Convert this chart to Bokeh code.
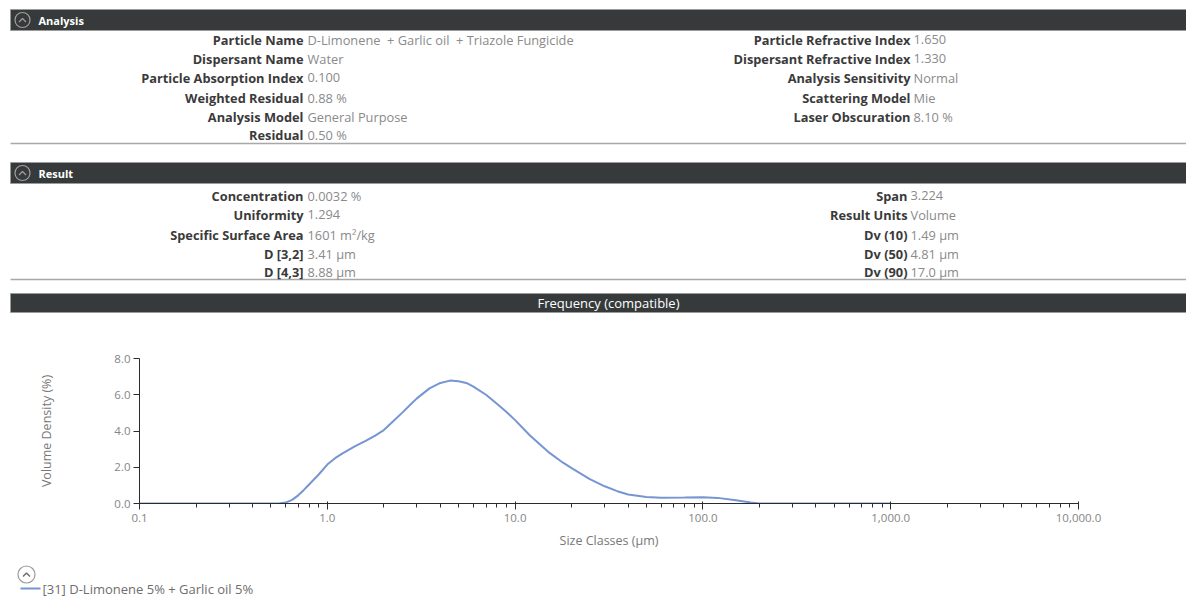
from bokeh.plotting import figure
from bokeh.models import Range1d, FixedTicker, CustomJSTickFormatter, NumeralTickFormatter
from bokeh.core.properties import value
from bokeh.embed import file_html
from bokeh.resources import INLINE

# ---------------- data ----------------
analysis_left_labels = ["Particle Name", "Dispersant Name", "Particle Absorption Index",
                        "Weighted Residual", "Analysis Model", "Residual"]
analysis_left_values = ["D-Limonene\u00a0 + Garlic oil\u00a0 + Triazole Fungicide", "Water", "0.100",
                        "0.88 %", "General Purpose", "0.50 %"]
analysis_right_labels = ["Particle Refractive Index", "Dispersant Refractive Index",
                         "Analysis Sensitivity", "Scattering Model", "Laser Obscuration"]
analysis_right_values = ["1.650", "1.330", "Normal", "Mie", "8.10 %"]

result_left_labels = ["Concentration", "Uniformity", "Specific Surface Area", "D [3,2]", "D [4,3]"]
result_left_values = ["0.0032 %", "1.294", "1601 m²/kg", "3.41 μm", "8.88 μm"]
result_right_labels = ["Span", "Result Units", "Dv (10)", "Dv (50)", "Dv (90)"]
result_right_values = ["3.224", "Volume", "1.49 μm", "4.81 μm", "17.0 μm"]

size_classes = [0.1, 0.2, 0.3, 0.4, 0.5, 0.55, 0.6, 0.65, 0.7, 0.75, 0.8, 0.9, 1.0, 1.1, 1.2,
                1.4, 1.6, 1.8, 2.0, 2.2, 2.5, 2.8, 3.0, 3.5, 4.0, 4.5, 5.0, 5.5, 6.0, 7.0,
                8.0, 9.0, 10.0, 12.0, 15.0, 18.0, 20.0, 25.0, 30.0, 35.0, 40.0, 50.0, 60.0,
                80.0, 100.0, 120.0, 150.0, 180.0, 200.0, 300.0, 1000.0]
volume_density = [0.0, 0.0, 0.0, 0.0, 0.0, 0.0, 0.05, 0.2, 0.45, 0.75, 1.05, 1.6, 2.15, 2.5, 2.75,
                  3.15, 3.45, 3.75, 4.05, 4.45, 5.0, 5.5, 5.8, 6.35, 6.65, 6.78, 6.75, 6.65, 6.45, 6.0,
                  5.5, 5.05, 4.6, 3.75, 2.85, 2.25, 1.95, 1.35, 0.95, 0.68, 0.5, 0.36, 0.32,
                  0.33, 0.34, 0.31, 0.18, 0.05, 0.0, 0.0, 0.0]

x_major_ticks = [0.1, 1.0, 10.0, 100.0, 1000.0, 10000.0]
y_ticks = [0.0, 2.0, 4.0, 6.0, 8.0]
series_name = "[31] D-Limonene 5% + Garlic oil 5%"
panel_titles = ["Analysis", "Result"]
chart_title = "Frequency (compatible)"
x_label = "Size Classes (μm)"
y_label = "Volume Density (%)"

# ---------------- style ----------------
FONT = value("Open Sans")
W = 1186
DARK = "#363a3b"
LABEL_C = "#3a3a3a"
VALUE_C = "#8a8a8a"
LINE_C = "#7596d2"
LBL_SIZE = "12.8px"
VAL_SIZE = "12.8px"

# ---------------- top panels (page y 0..313) ----------------
HA = 313
pa = figure(width=W, height=HA, x_range=Range1d(0, W), y_range=Range1d(HA, 0),
            output_backend="svg", toolbar_location=None, min_border=0,
            x_axis_location=None, y_axis_location=None, outline_line_color=None)
pa.grid.visible = False

pa.quad(left=[10] * 3, right=[W] * 3, top=[9, 162, 293], bottom=[30, 183, 312],
        fill_color=DARK, line_color="#9a9c9c", line_width=1)

icon_y = [19.5, 172.5]
pa.scatter(x=[22] * 2, y=icon_y, size=15, marker="circle", fill_color=None,
           line_color="#a0a0a0", line_width=1.2)
pa.multi_line(xs=[[18.5, 22, 25.5]] * 2, ys=[[yy + 2, yy - 1.5, yy + 2] for yy in icon_y],
              line_color="#a0a0a0", line_width=1.2)
pa.text(x=[38] * 2, y=icon_y, text=panel_titles, text_font=FONT, text_font_size="11px",
        text_font_style="bold", text_color="white", text_baseline="middle", text_align="left")
pa.text(x=[608], y=[302.5], text=[chart_title], text_font=FONT, text_font_size="13px",
        text_color="white", text_baseline="middle", text_align="center")

pa.segment(x0=[10] * 2, x1=[W] * 2, y0=[143, 279], y1=[143, 279],
           line_color="#a8a8a8", line_width=1.5)

def rows(labels, values, lx, vx, ys):
    pa.text(x=[lx] * len(labels), y=ys, text=labels, text_font=FONT, text_font_size=LBL_SIZE,
            text_font_style="bold", text_color=LABEL_C, text_baseline="middle", text_align="right")
    pa.text(x=[vx] * len(values), y=ys, text=values, text_font=FONT, text_font_size=VAL_SIZE,
            text_color=VALUE_C, text_baseline="middle", text_align="left")

a_rows = [39, 58, 77, 97, 116, 134]
r_rows = [195, 214, 234, 253, 271]
rows(analysis_left_labels, analysis_left_values, 303, 307, a_rows)
rows(analysis_right_labels, analysis_right_values, 910, 913, a_rows[:len(analysis_right_labels)])
rows(result_left_labels, result_left_values, 303, 307, r_rows)
rows(result_right_labels, result_right_values, 907, 910, r_rows)

# ---------------- chart (page y 313..560) ----------------
pb = figure(width=W, height=247, x_axis_type="log", x_range=Range1d(0.1, 10000),
            y_range=Range1d(0, 8), output_backend="svg", toolbar_location=None,
            min_border_left=139, min_border_right=W - 1078, min_border_top=45,
            min_border_bottom=57, outline_line_color=None)
pb.grid.visible = False
pb.line(size_classes, volume_density, line_color=LINE_C, line_width=2)

minor = [m * t for t in x_major_ticks[:-1] for m in range(2, 10)]
pb.xaxis.ticker = FixedTicker(ticks=x_major_ticks, minor_ticks=minor)
pb.xaxis.formatter = CustomJSTickFormatter(
    code="return tick.toLocaleString('en-US', {minimumFractionDigits: 1, maximumFractionDigits: 1});")
pb.yaxis.ticker = FixedTicker(ticks=y_ticks)
pb.yaxis.formatter = NumeralTickFormatter(format="0.0")

for ax in (pb.xaxis[0], pb.yaxis[0]):
    ax.axis_line_color = "#2b2b2b"
    ax.major_tick_line_color = "#2b2b2b"
    ax.minor_tick_line_color = "#2b2b2b"
    ax.major_label_text_font = "Open Sans"
    ax.major_label_text_font_size = "11.5px"
    ax.major_label_text_color = "#858585"
    ax.axis_label_text_font = "Open Sans"
    ax.axis_label_text_font_size = "12.5px"
    ax.axis_label_text_font_style = "normal"
    ax.axis_label_text_color = "#777777"

pb.xaxis.major_tick_out = 6
pb.xaxis.major_tick_in = 2
pb.xaxis.minor_tick_out = 4
pb.xaxis.minor_tick_in = 0
pb.xaxis.major_label_standoff = 4
pb.xaxis.axis_label = x_label
pb.xaxis.axis_label_standoff = 7

pb.yaxis.major_tick_out = 6
pb.yaxis.major_tick_in = 0
pb.yaxis.minor_tick_line_color = None
pb.yaxis.major_label_standoff = 3
pb.yaxis.axis_label = y_label
pb.yaxis.axis_label_standoff = 56

# ---------------- legend strip (page y 560..599) ----------------
HC = 39
pc = figure(width=W, height=HC, x_range=Range1d(0, W), y_range=Range1d(HC, 0),
            output_backend="svg", toolbar_location=None, min_border=0,
            x_axis_location=None, y_axis_location=None, outline_line_color=None)
pc.grid.visible = False
cy = 14
pc.scatter(x=[26], y=[cy], size=17, marker="circle", fill_color=None,
           line_color="#9a9a9a", line_width=1.2)
pc.line(x=[22.5, 26, 29.5], y=[cy + 2, cy - 1.5, cy + 2], line_color="#707070", line_width=1.5)
ly = 28
pc.segment(x0=[20], x1=[40], y0=[ly], y1=[ly], line_color=LINE_C, line_width=2)
pc.text(x=[42], y=[ly], text=[series_name], text_font=FONT, text_font_size="13px",
        text_color="#6e6e6e", text_baseline="middle", text_align="left")

open("out.html", "w").write(file_html([pa, pb, pc], INLINE))
